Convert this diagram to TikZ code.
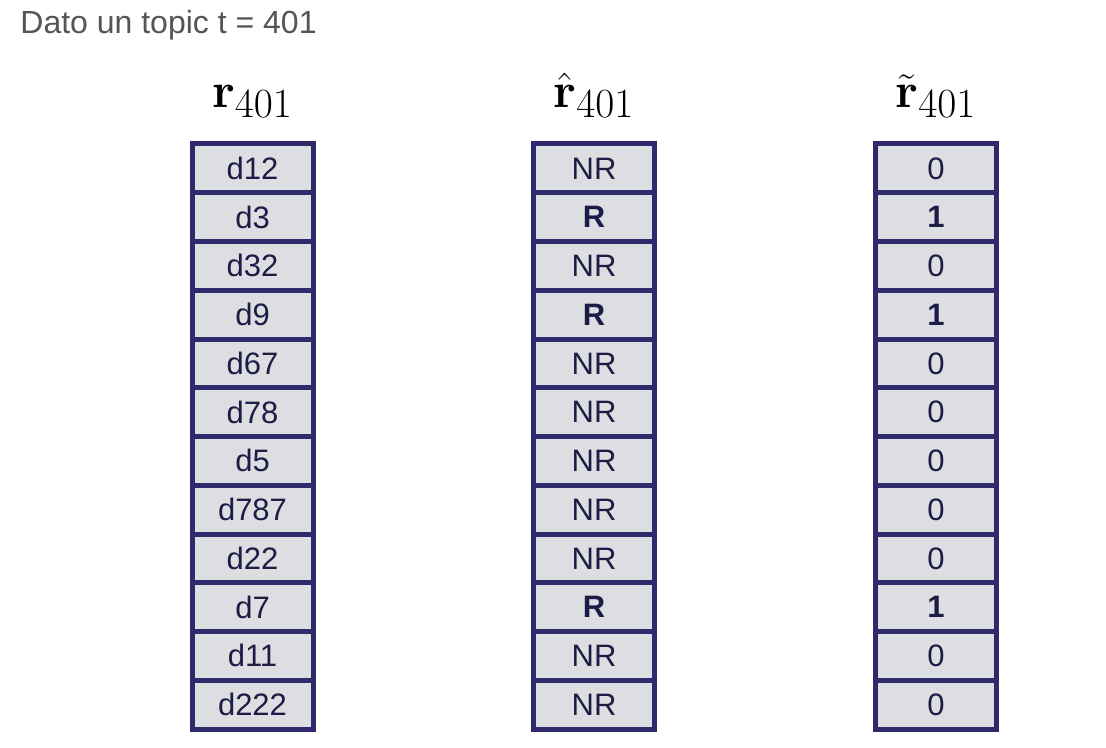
\documentclass[tikz,border=0pt]{standalone}
\usepackage[no-math]{fontspec}
\setmainfont{Liberation Sans}
\definecolor{cellborder}{RGB}{46,42,108}
\definecolor{cellfill}{RGB}{221,222,225}
\definecolor{celltext}{RGB}{30,28,70}
\definecolor{captext}{RGB}{85,85,85}
\tikzset{
  cell/.style={draw=cellborder, fill=cellfill, line width=2.5pt,
    minimum width=60.5pt, minimum height=24.375pt, inner sep=0pt, outer sep=0pt,
    text=celltext, font=\fontsize{15.5}{17}\selectfont},
  coltitle/.style={anchor=base, inner sep=0pt, font=\Huge}
}
\begin{document}
\begin{tikzpicture}[x=0.5pt, y=-0.5pt]
  \useasboundingbox (0,0) rectangle (1106,748);
  % caption
  \node[anchor=base west, inner sep=0pt, text=captext, font=\fontsize{16}{18}\selectfont]
    (caption) at (20,33.5) {Dato un topic t = 401};
  % column titles
  \node[coltitle] (rtitle)  at (252.5,108) {$\mathbf{r}_{401}$};
  \node[coltitle] (rhtitle) at (594,108)   {$\hat{\mathbf{r}}_{401}$};
  \node[coltitle] (rttitle) at (936,108)   {$\tilde{\mathbf{r}}_{401}$};
  % ranked documents
  \foreach \doc [count=\i] in {d12,d3,d32,d9,d67,d78,d5,d787,d22,d7,d11,d222}
    \node[cell] (r-\i) at (252.5,{168.375+48.75*(\i-1)}) {\doc};
  % relevance judgements
  \foreach \rel [count=\i] in {NR,\textbf{R},NR,\textbf{R},NR,NR,NR,NR,NR,\textbf{R},NR,NR}
    \node[cell] (rh-\i) at (594,{168.375+48.75*(\i-1)}) {\rel};
  % binary vector
  \foreach \bin [count=\i] in {0,\textbf{1},0,\textbf{1},0,0,0,0,0,\textbf{1},0,0}
    \node[cell] (rt-\i) at (936,{168.375+48.75*(\i-1)}) {\bin};
\end{tikzpicture}
\end{document}
